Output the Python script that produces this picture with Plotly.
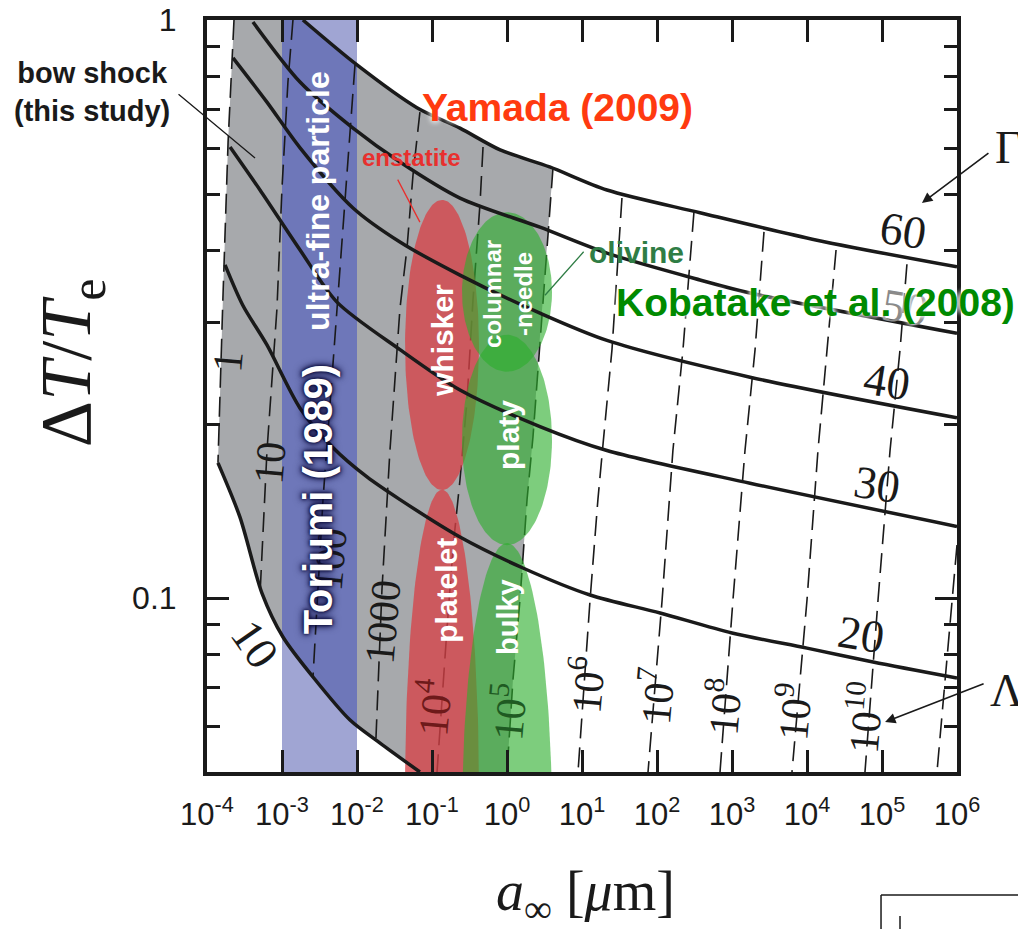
import numpy as np
import plotly.graph_objects as go

# ---------------- data ----------------
# Gamma iso-lines (solid): a_inf [um], dT/Te
g10_a  = [1.40e-4, 2.75e-4, 5.4e-4, 1.03e-3, 2.59e-3, 8.07e-3, 2.03e-2, 6.9e-2]
g10_dT = [0.1713, 0.138, 0.102, 0.0856, 0.0730, 0.0615, 0.0561, 0.0500]

g20_a  = [1.74e-4, 3.0e-4, 6.3e-4, 1.74e-3, 4.8e-3, 1.36e-2, 3.74e-2, 0.236, 1.63, 12.8, 110, 1.0e3, 1.0e4, 7.6e4, 1.0e6]
g20_dT = [0.377, 0.321, 0.274, 0.213, 0.182, 0.162, 0.148, 0.1275, 0.1127, 0.1012, 0.0942, 0.0870, 0.0819, 0.0775, 0.0727]

g30_a  = [2.03e-4, 5.09e-4, 1.74e-3, 5.41e-3, 3.74e-2, 0.236, 2.75, 21.5, 1.74e3, 1.0e6]
g30_dT = [0.603, 0.508, 0.400, 0.325, 0.269, 0.229, 0.198, 0.180, 0.158, 0.133]

g40_a  = [2.22e-4, 6.3e-4, 1.74e-3, 8.85e-3, 3.74e-2, 0.236, 2.75, 21.5, 1.74e3, 1.0e6]
g40_dT = [0.860, 0.721, 0.601, 0.473, 0.413, 0.362, 0.311, 0.279, 0.241, 0.205]

g50_a  = [4.1e-4, 1.74e-3, 8.85e-3, 3.74e-2, 0.236, 2.75, 21.5, 374, 1.74e3, 1.0e6]
g50_dT = [0.992, 0.781, 0.650, 0.568, 0.492, 0.438, 0.395, 0.355, 0.337, 0.287]

g60_a  = [1.9e-3, 1.0e-2, 6.3e-2, 0.236, 0.81, 3.7, 21.5, 374, 1.36e4, 1.0e6]
g60_dT = [1.0, 0.836, 0.705, 0.650, 0.596, 0.557, 0.508, 0.464, 0.416, 0.374]

gamma_values = [10, 20, 30, 40, 50, 60]

# Lambda iso-lines (dashed): Lambda = 10^k
lam_exp = [0, 1, 2, 3, 4, 5, 6, 7, 8, 9, 10, 11]
lam_a = [
    [2.29e-4, 1.91e-4, 1.63e-4, 1.40e-4],
    [1.40e-3, 1.20e-3, 1.0e-3, 8.57e-4, 6.31e-4, 5.09e-4],
    [9.4e-3, 7.36e-3, 5.41e-3, 4.37e-3, 3.52e-3, 2.59e-3],
    [6.9e-2, 5.58e-2, 4.64e-2, 3.74e-2, 2.75e-2, 2.15e-2, 1.79e-2],
    [0.479, 0.437, 0.352, 0.293, 0.236, 0.191, 0.158, 0.1167],
    [4.1, 3.41, 2.75, 2.22, 1.85, 1.49, 1.20, 1.0],
    [34.1, 25.1, 19.1, 16.3, 12.8, 8.85],
    [311, 222, 163, 117, 75.9],
    [2.67e3, 2.03e3, 1.49e3, 1.03e3, 692],
    [2.44e4, 1.85e4, 1.40e4, 1.0e4, 6.31e3],
    [2.15e5, 1.74e5, 1.28e5, 8.85e4, 5.93e4],
    [1.0e6, 8.57e5, 6.92e5, 5.41e5],
]
lam_dT = [
    [1.0, 0.615, 0.330, 0.1713],
    [1.0, 0.781, 0.512, 0.317, 0.180, 0.1012],
    [0.836, 0.539, 0.317, 0.220, 0.148, 0.0730],
    [0.693, 0.539, 0.403, 0.317, 0.180, 0.1032, 0.0572],
    [0.603, 0.482, 0.328, 0.220, 0.160, 0.1225, 0.088, 0.05],
    [0.554, 0.400, 0.283, 0.190, 0.148, 0.0992, 0.0721, 0.05],
    [0.492, 0.269, 0.185, 0.148, 0.0992, 0.05],
    [0.4655, 0.269, 0.180, 0.0992, 0.05],
    [0.430, 0.269, 0.180, 0.0992, 0.05],
    [0.400, 0.269, 0.180, 0.0992, 0.05],
    [0.378, 0.269, 0.180, 0.0992, 0.05],
    [0.1235, 0.0992, 0.0721, 0.05],
]

# ultra-fine particle band (Toriumi 1989)
band_a = [1.0e-3, 1.0e-2]

# crystal-habit regions: centre a, centre dT, half width (decades in a), half height (decades in dT)
habit_names   = ["whisker", "platelet", "columnar", "platy", "bulky"]
habit_a       = [0.136, 0.136, 1.0, 1.0, 1.0]
habit_dT      = [0.274, 0.0466, 0.3384, 0.1877, 0.0413]
habit_wdec    = [0.493, 0.493, 0.60, 0.60, 0.60]
habit_hdec    = [0.251, 0.519, 0.138, 0.182, 0.479]
habit_mineral = ["enstatite", "enstatite", "olivine", "olivine", "olivine"]

x_ticks = [1e-4, 1e-3, 1e-2, 1e-1, 1e0, 1e1, 1e2, 1e3, 1e4, 1e5, 1e6]
x_ticktext = ["10<sup>%d</sup>" % e for e in range(-4, 7)]
y_ticks = [0.1, 1]
y_ticktext = ["0.1", "1"]
y_minor = [0.06, 0.07, 0.08, 0.09, 0.2, 0.3, 0.4, 0.5, 0.6, 0.7, 0.8, 0.9]

# ---------------- helpers ----------------
def interp_log(xs, ys, x):
    return float(10 ** np.interp(np.log10(x), np.log10(xs), np.log10(ys)))

BLACK = "#1a1a1a"
GRAY = "#a7a9ac"
BLUE_LIGHT = "#a0a5d3"
BLUE_DARK = "#6e77b9"
RED_FILL = "rgba(216,64,70,0.76)"
GREEN_FILL = "rgba(45,175,45,0.62)"

fig = go.Figure()

# light blue band (full height)
fig.add_trace(go.Scatter(
    x=[band_a[0], band_a[1], band_a[1], band_a[0], band_a[0]],
    y=[0.05, 0.05, 1.0, 1.0, 0.05], mode="lines", fill="toself",
    fillcolor=BLUE_LIGHT, line=dict(width=0), hoverinfo="skip"))

# gray region: Lambda=1 .. Lambda=1e5, between Gamma=10 and Gamma=60
lam5_top = lam_a[5][0]
g60_in = [(a, d) for a, d in zip(g60_a, g60_dT) if a < lam5_top]
poly_a = list(lam_a[0]) + list(g10_a[1:]) + list(lam_a[5][::-1]) + [a for a, d in g60_in[::-1]] + [lam_a[0][0]]
poly_d = list(lam_dT[0]) + list(g10_dT[1:]) + list(lam_dT[5][::-1]) + [d for a, d in g60_in[::-1]] + [lam_dT[0][0]]
fig.add_trace(go.Scatter(x=poly_a, y=poly_d, mode="lines", fill="toself",
                         fillcolor=GRAY, line=dict(width=0), hoverinfo="skip"))

# dark blue: band inside gray region
lo, hi = band_a
up_a = [lo] + [a for a in g60_a if lo < a <= hi]
up_d = [1.0] + [d for a, d in zip(g60_a, g60_dT) if lo < a <= hi]
if up_a[-1] < hi:
    up_a.append(hi); up_d.append(interp_log(g60_a, g60_dT, hi))
low_pts = [(a, d) for a, d in zip(g10_a, g10_dT) if lo < a < hi]
low_a = [hi] + [a for a, d in low_pts[::-1]] + [lo]
low_d = [interp_log(g10_a, g10_dT, hi)] + [d for a, d in low_pts[::-1]] + [interp_log(g10_a, g10_dT, lo)]
fig.add_trace(go.Scatter(x=up_a + low_a + [up_a[0]], y=up_d + low_d + [up_d[0]],
                         mode="lines", fill="toself", fillcolor=BLUE_DARK,
                         line=dict(width=0), hoverinfo="skip"))

# dashed Lambda lines
for xa, yd in zip(lam_a, lam_dT):
    fig.add_trace(go.Scatter(x=xa, y=yd, mode="lines",
                             line=dict(color=BLACK, width=1.6, dash="20px,9px"),
                             hoverinfo="skip"))

# habit ellipses (red first, green on top)
t = np.linspace(0, 2 * np.pi, 181)
for i in range(len(habit_names)):
    cx, cy = np.log10(habit_a[i]), np.log10(habit_dT[i])
    ex = 10 ** (cx + habit_wdec[i] * np.cos(t))
    ey = 10 ** (cy + habit_hdec[i] * np.sin(t))
    col = RED_FILL if habit_mineral[i] == "enstatite" else GREEN_FILL
    fig.add_trace(go.Scatter(x=ex, y=ey, mode="lines", fill="toself",
                             fillcolor=col, line=dict(width=0), hoverinfo="skip"))

# solid Gamma lines
for xa, yd in [(g10_a, g10_dT), (g20_a, g20_dT), (g30_a, g30_dT),
               (g40_a, g40_dT), (g50_a, g50_dT), (g60_a, g60_dT)]:
    fig.add_trace(go.Scatter(x=xa, y=yd, mode="lines",
                             line=dict(color=BLACK, width=3.5, shape="spline", smoothing=0.8),
                             hoverinfo="skip"))

# ---------------- annotations ----------------
ann = []
SERIF = "Liberation Serif, DejaVu Serif, serif"
SANS = "Liberation Sans, Arial, sans-serif"

def lab(text, a, d, size, color=BLACK, family=SERIF, angle=0, shadow=None, bold=False):
    f = dict(size=size, color=color, family=family)
    if shadow:
        f["shadow"] = shadow
    if bold:
        text = "<b>" + text + "</b>"
    ann.append(dict(x=np.log10(a), y=np.log10(d), xref="x", yref="y", text=text,
                    showarrow=False, font=f, textangle=angle,
                    xanchor="center", yanchor="middle"))

def plab(text, px, py, size, color=BLACK, family=SERIF, angle=0, bold=False):
    if bold:
        text = "<b>" + text + "</b>"
    ann.append(dict(x=px, y=py, xref="paper", yref="paper", text=text,
                    showarrow=False, textangle=angle, xanchor="center", yanchor="middle",
                    font=dict(size=size, color=color, family=family)))

# Lambda labels (rotated along dashed lines)
lam_lab_pos = [(1.91e-4, 0.256), (6.9e-4, 0.1713), (4.37e-3, 0.1164), (2.22e-2, 0.0909),
               (0.103, 0.0648), (1.0, 0.0635), (11.0, 0.0707), (94.0, 0.0679),
               (759, 0.0648), (6.31e3, 0.0635), (5.58e4, 0.0620)]
lam_lab_col = [BLACK, BLACK, BLACK, BLACK, "#6e1a1a", "#1f5a22", BLACK, BLACK, BLACK, BLACK, BLACK]
for k, (pos, c) in enumerate(zip(lam_lab_pos, lam_lab_col)):
    e = lam_exp[k]
    txt = str(10 ** e) if e <= 3 else "10<sup>%d</sup>" % e
    lab(txt, pos[0], pos[1], 42, color=c, angle=-85)

# Gamma labels
gam_lab_pos = [(4.4e-4, 0.0832), (5.25e4, 0.0863), (8.6e4, 0.157), (1.17e5, 0.2373),
               (2.03e5, 0.3187), (1.9e5, 0.4315)]
for gv, pos in zip(gamma_values, gam_lab_pos):
    ang = 55 if gv == 10 else 9
    col = "#8a8a8a" if gv == 50 else BLACK
    lab(str(gv), pos[0], pos[1], 46, color=col, angle=ang)

# region texts
lab("ultra-fine particle", 3.0e-3, 0.486, 32, color="white", family=SANS, angle=-90, bold=True)
lab("Toriumi (1989)", 3.0e-3, 0.148, 40, color="white", family=SANS, angle=-90, bold=True,
    shadow="0px 0px 5px #0a0a3a, 0px 0px 9px #0a0a3a, 0px 0px 3px #0a0a3a")
lab("whisker", 0.140, 0.2795, 30, color="white", family=SANS, angle=-90, bold=True)
lab("columnar<br>-needle", 1.03, 0.3357, 24, color="white", family=SANS, angle=-90, bold=True)
lab("platy", 1.03, 0.1914, 30, color="white", family=SANS, angle=-90, bold=True)
lab("platelet", 0.158, 0.1033, 30, color="white", family=SANS, angle=-90, bold=True)
lab("bulky", 1.03, 0.0927, 29, color="white", family=SANS, angle=-90, bold=True)
lab("enstatite", 0.054, 0.579, 24, color="#e8302e", family=SANS, bold=True)
lab("olivine", 54.1, 0.3967, 30, color="#2f7d45", family=SANS, bold=True)
lab("Yamada (2009)", 4.65, 0.705, 39, color="#ff3a10", family=SANS, bold=True,
    shadow="0px 0px 6px white, 0px 0px 6px white")
lab("Kobatake et al. (2008)", 1.28e4, 0.324, 39, color="#008a00", family=SANS, bold=True,
    shadow="0px 0px 5px white, 0px 0px 5px white")

# texts outside the plotting area (paper coordinates)
plab("bow shock<br>(this study)", -0.153, 0.904, 29, family=SANS, bold=True)
plab("Γ", 1.069, 0.830, 46)
plab("Λ", 1.066, 0.109, 46)

# leader lines / arrows: (tip a, tip dT, ax, ay, colour, head)
leaders = [
    (4.37e-4, 0.577, -78, -65, BLACK, 0),
    (6.9e-2, 0.447, -23, -44, "#e8302e", 0),
    (3.21, 0.334, 40, -45, "#2f7d45", 0),
    (3.41e5, 0.4825, 68, -51, BLACK, 2),
    (1.1e5, 0.061, 100, -39, BLACK, 2),
]
for a, d, ax, ay, c, hd in leaders:
    ann.append(dict(x=np.log10(a), y=np.log10(d), xref="x", yref="y", text="",
                    showarrow=True, ax=ax, ay=ay, axref="pixel", ayref="pixel",
                    arrowhead=hd, arrowsize=1.3, arrowwidth=1.6 if hd else 1.3,
                    arrowcolor=c, standoff=0, startstandoff=0))

# axis titles
plab("Δ<i>T</i>/<i>T</i><sub>e</sub>", -0.181, 0.544, 72, angle=-90)
plab("<i>a</i><sub>∞</sub> [<i>μ</i>m]", 0.504, -0.164, 56)

# partial frame of neighbouring panel (bottom right)
shapes = [
    dict(type="line", xref="paper", yref="paper", x0=0.8987, x1=0.8987, y0=-0.1636, y1=-0.215,
         line=dict(color=BLACK, width=1.5)),
    dict(type="line", xref="paper", yref="paper", x0=0.8987, x1=1.1, y0=-0.1636, y1=-0.1636,
         line=dict(color=BLACK, width=1.5)),
    dict(type="line", xref="paper", yref="paper", x0=0.924, x1=0.924, y0=-0.1915, y1=-0.215,
         line=dict(color=BLACK, width=1.5)),
]

# the page body adds an 8 px margin, so the figure is 8 px smaller than the window
fig.update_layout(
    width=1018, height=921,
    margin=dict(l=199, r=69, t=12, b=157, autoexpand=False),
    plot_bgcolor="white", paper_bgcolor="white",
    showlegend=False,
    annotations=ann, shapes=shapes,
    xaxis=dict(type="log", range=[-4, 6], tickvals=x_ticks, ticktext=x_ticktext,
               ticks="inside", ticklen=22, tickwidth=3, tickcolor=BLACK,
               showline=True, linewidth=4, linecolor=BLACK, mirror="ticks",
               showgrid=False, zeroline=False, ticklabelstandoff=12,
               ticklabeloverflow="allow", automargin=False,
               tickfont=dict(size=31, family=SANS, color=BLACK)),
    yaxis=dict(type="log", range=[np.log10(0.05), 0], tickvals=y_ticks, ticktext=y_ticktext,
               ticks="inside", ticklen=22, tickwidth=3, tickcolor=BLACK,
               showline=True, linewidth=4, linecolor=BLACK, mirror="ticks",
               showgrid=False, zeroline=False, ticklabelstandoff=20,
               ticklabeloverflow="allow", automargin=False,
               tickfont=dict(size=32, family=SANS, color=BLACK),
               minor=dict(tickvals=y_minor, ticks="inside", ticklen=13, tickwidth=3,
                          tickcolor=BLACK, showgrid=False)),
)

fig.write_html("out.html")
